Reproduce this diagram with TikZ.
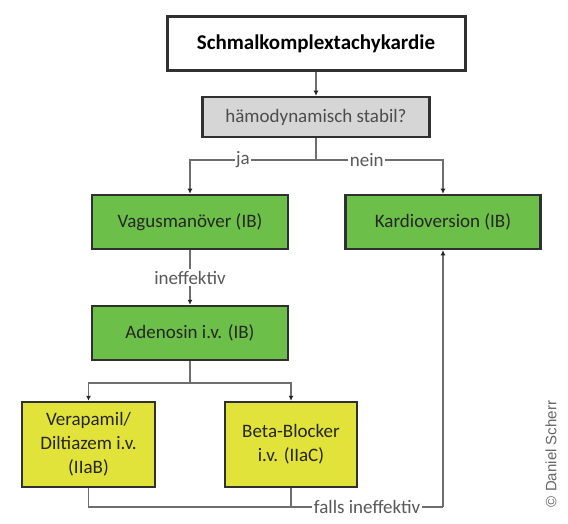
\documentclass[tikz,border=0pt]{standalone}
\usepackage{fontspec}
\setmainfont{Carlito}
\setsansfont{Liberation Sans}
\usepackage{tikz}
\usetikzlibrary{calc}
\usetikzlibrary{positioning}
\usetikzlibrary{arrows.meta}

\definecolor{boxgreen}{HTML}{6CC04A}
\definecolor{boxyellow}{HTML}{E2E33A}
\definecolor{boxgrey}{HTML}{D6D6D6}
\definecolor{linegrey}{HTML}{6E6E6E}
\definecolor{framedark}{HTML}{303030}

\tikzset{
  box/.style={draw=framedark, line width=2.5pt, inner sep=0pt, align=center,
    font=\fontsize{19}{24}\selectfont, text=black!85},
  greenbox/.style={box, fill=boxgreen, minimum width=196, minimum height=54},
  yellowbox/.style={box, fill=boxyellow, minimum width=133, minimum height=85},
  line/.style={draw=linegrey, line width=1.8pt},
  conn/.style={line, -{Latex[length=5pt,width=5pt,color=black!85]}},
  lbl/.style={fill=white, inner sep=1.5pt, font=\fontsize{19}{22}\selectfont, text=black!65}
}

\begin{document}
\begin{tikzpicture}[x=1pt,y=-1pt]
      \useasboundingbox[fill=white] (0,0) rectangle (568,524);

      \node[box, fill=white, line width=3pt, minimum width=298, minimum height=54,
        font=\bfseries\fontsize{21}{24}\selectfont, text=black] (title) at (316,44) {Schmalkomplextachykardie};
      \node[box, fill=boxgrey, minimum width=227, minimum height=40, text=black!70] (stabil) at (316,117) {hämodynamisch stabil?};

      \node[greenbox] (vagus) at (190,222) {Vagusmanöver (IB)};
      \node[greenbox, minimum width=195] (kardio) at (443,222) {Kardioversion (IB)};
      \node[greenbox] (adeno) at (190,333) {Adenosin i.v. (IB)};

      \node[yellowbox] (vera) at (88.5,444.5) {Verapamil/\\Diltiazem i.v.\\(IIaB)};
      \node[yellowbox, minimum width=132] (beta) at (291,444.5) {Beta-Blocker\\i.v. (IIaC)};

      \node[rotate=90, font=\sffamily\fontsize{15}{17}\selectfont, text=black!60] (copy) at (551,454) {© Daniel Scherr};

      % connectors
      \coordinate (split1) at (316,160);
      \coordinate (split2) at (190,383);
      \coordinate (back) at (443,507);

      \draw[conn] (title) -- (stabil);
      \draw[line] (stabil) -- (split1);
      \draw[conn] (split1) -| node[lbl, pos=0.29] {ja} (vagus);
      \draw[conn] (split1) -| node[lbl, pos=0.2] {nein} (kardio);
      \draw[conn] (vagus) -- node[lbl] {ineffektiv} (adeno);
      \draw[line] (adeno) -- (split2);
      \draw[conn] (split2) -| (vera);
      \draw[conn] (split2) -| (beta);
      \draw[line] (vera) |- node[lbl, pos=0.893] {falls ineffektiv} (back);
      \draw[line] (beta) -- (beta |- back);
      \draw[conn] (back) -- (kardio);
    \end{tikzpicture}
\end{document}
